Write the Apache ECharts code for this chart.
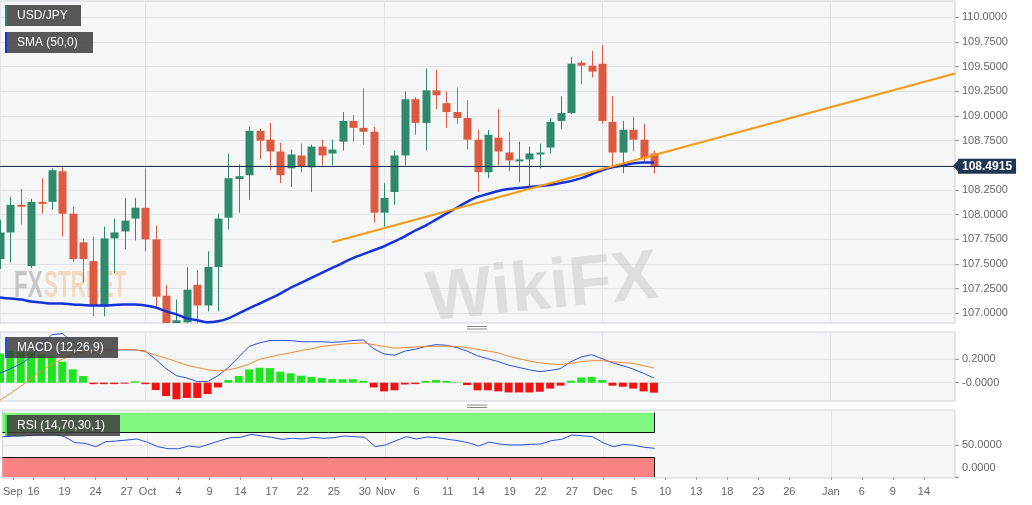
<!DOCTYPE html>
<html>
<head>
<meta charset="utf-8">
<script src="https://cdn.jsdelivr.net/npm/echarts@6.0.0/dist/echarts.min.js"></script>
<style>
html,body{margin:0;padding:0;background:#ffffff;}
#chart{width:1032px;height:505px;}
</style>
</head>
<body>
<div id="chart"></div>
<script>
// ---------- DATA ----------
const dates = [
 '2019-09-11','2019-09-12','2019-09-13','2019-09-16','2019-09-17','2019-09-18','2019-09-19','2019-09-20',
 '2019-09-23','2019-09-24','2019-09-25','2019-09-26','2019-09-27','2019-09-30',
 '2019-10-01','2019-10-02','2019-10-03','2019-10-04','2019-10-07','2019-10-08','2019-10-09','2019-10-10','2019-10-11',
 '2019-10-14','2019-10-15','2019-10-16','2019-10-17','2019-10-18','2019-10-21','2019-10-22','2019-10-23','2019-10-24','2019-10-25',
 '2019-10-28','2019-10-29','2019-10-30','2019-10-31',
 '2019-11-01','2019-11-04','2019-11-05','2019-11-06','2019-11-07','2019-11-08','2019-11-11','2019-11-12','2019-11-13','2019-11-14','2019-11-15',
 '2019-11-18','2019-11-19','2019-11-20','2019-11-21','2019-11-22','2019-11-25','2019-11-26','2019-11-27','2019-11-28','2019-11-29',
 '2019-12-02','2019-12-03','2019-12-04','2019-12-05','2019-12-06','2019-12-09','2019-12-10','2019-12-11','2019-12-12','2019-12-13',
 '2019-12-16','2019-12-17','2019-12-18','2019-12-19','2019-12-20','2019-12-23','2019-12-24','2019-12-25','2019-12-26','2019-12-27',
 '2019-12-30','2019-12-31',
 '2020-01-01','2020-01-02','2020-01-03','2020-01-06','2020-01-07','2020-01-08','2020-01-09','2020-01-10',
 '2020-01-13','2020-01-14','2020-01-15','2020-01-16','2020-01-17'
];

const opens  = [107.55,107.82,108.10,107.48,108.13,108.13,108.44,108.01,107.72,107.53,107.07,107.76,107.83,107.96,
                108.07,107.75,107.18,106.89,106.91,107.29,107.08,107.47,107.97,108.36,108.40,108.85,108.76,108.64,
                108.47,108.60,108.48,108.69,108.62,108.74,108.95,108.88,108.84,108.02,108.23,108.60,109.17,108.93,
                109.26,109.13,109.04,108.98,108.76,108.43,108.78,108.63,108.54,108.56,108.61,108.68,108.95,109.03,
                109.54,109.51,109.53,108.94,108.63,108.86,108.76,108.62];
const closes = [107.82,108.10,108.08,108.13,108.11,108.45,108.01,107.55,107.55,107.08,107.76,107.82,107.94,108.07,
                107.75,107.17,106.88,106.93,107.24,107.08,107.47,107.96,108.37,108.39,108.85,108.75,108.64,108.40,
                108.61,108.49,108.69,108.60,108.66,108.95,108.88,108.84,108.02,108.17,108.60,109.17,108.93,109.26,
                109.21,109.04,108.98,108.76,108.43,108.81,108.64,108.55,108.56,108.62,108.63,108.94,109.03,109.53,
                109.51,109.45,108.95,108.63,108.86,108.76,108.57,108.49];
const lows   = [107.45,107.52,107.90,107.46,108.01,108.05,107.78,107.52,107.31,106.97,106.97,107.41,107.65,107.74,
                107.63,107.07,106.48,106.73,106.80,106.90,107.02,107.02,107.85,108.02,108.15,108.56,108.45,108.32,
                108.28,108.43,108.23,108.50,108.50,108.65,108.74,108.71,107.92,107.88,108.10,108.50,108.81,108.65,
                109.07,108.88,108.92,108.66,108.23,108.37,108.50,108.44,108.33,108.28,108.47,108.62,108.87,109.02,
                109.32,109.39,108.92,108.49,108.42,108.64,108.53,108.42];
const highs  = [107.95,108.18,108.26,108.16,108.37,108.47,108.48,108.08,107.76,107.78,107.88,107.96,108.17,108.17,
                108.47,107.89,107.29,107.14,107.47,107.44,107.63,108.01,108.62,108.51,108.89,108.87,108.93,108.73,
                108.66,108.72,108.71,108.76,108.76,109.04,109.01,109.28,108.89,108.32,108.65,109.25,109.19,109.48,
                109.47,109.25,109.29,109.16,108.86,108.86,109.07,108.84,108.74,108.69,108.72,108.98,109.20,109.60,
                109.56,109.66,109.72,109.20,108.95,108.99,108.92,108.65];

const sma50 = [107.16,107.15,107.14,107.12,107.11,107.10,107.10,107.09,107.085,107.08,107.08,107.085,107.09,107.09,
               107.08,107.06,107.02,106.99,106.95,106.93,106.91,106.92,106.95,107.00,107.05,107.10,107.15,107.20,
               107.26,107.31,107.36,107.41,107.46,107.51,107.56,107.60,107.64,107.68,107.73,107.78,107.84,107.89,
               107.95,108.01,108.07,108.13,108.18,108.21,108.24,108.26,108.27,108.28,108.29,108.30,108.32,108.34,
               108.37,108.41,108.45,108.48,108.50,108.52,108.53,108.53];

const trendDates  = ['2019-10-25','2020-01-17'];
const trendValues = [107.72, 109.43];
const lastPrice   = 108.4915;

const macdLine   = [0.08,0.12,0.16,0.22,0.33,0.41,0.42,0.35,0.29,0.28,0.28,0.28,0.28,0.28,
                    0.27,0.20,0.12,0.06,0.04,0.01,0.01,0.06,0.13,0.22,0.31,0.34,0.36,0.36,
                    0.36,0.35,0.35,0.35,0.345,0.35,0.36,0.365,0.29,0.245,0.235,0.27,0.285,0.31,
                    0.325,0.32,0.30,0.27,0.23,0.205,0.18,0.15,0.13,0.11,0.095,0.105,0.12,0.18,
                    0.22,0.24,0.205,0.17,0.145,0.117,0.08,0.04];
const macdSignal = [-0.15,-0.09,-0.03,0.04,0.10,0.16,0.20,0.24,0.26,0.275,0.28,0.285,0.285,0.28,
                    0.265,0.235,0.21,0.18,0.15,0.13,0.11,0.10,0.11,0.13,0.16,0.20,0.22,0.24,
                    0.255,0.275,0.29,0.31,0.32,0.33,0.335,0.34,0.325,0.31,0.295,0.30,0.305,0.31,
                    0.312,0.313,0.31,0.30,0.285,0.27,0.255,0.225,0.205,0.185,0.17,0.16,0.157,0.165,
                    0.18,0.188,0.188,0.18,0.172,0.165,0.145,0.125];
const macdHist   = [0.25,0.27,0.265,0.26,0.24,0.23,0.18,0.114,0.057,-0.012,-0.012,-0.012,-0.008,0.012,
                    -0.012,-0.062,-0.114,-0.142,-0.13,-0.13,-0.097,-0.04,0.023,0.057,0.114,0.128,0.125,0.094,
                    0.08,0.06,0.05,0.04,0.03,0.03,0.03,0.017,-0.04,-0.074,-0.065,-0.015,-0.012,0.015,
                    0.023,0.015,0.004,-0.02,-0.065,-0.065,-0.074,-0.083,-0.083,-0.083,-0.077,-0.05,-0.025,0.017,
                    0.045,0.05,0.023,-0.025,-0.034,-0.05,-0.074,-0.085];

const rsi = [62.7,63.3,63.8,65.3,66.0,66.9,62.7,53.4,52.4,47.1,54.9,56.0,57.5,59.1,
             54.0,47.1,44.0,44.0,48.2,46.2,51.3,56.5,61.1,61.7,66.4,63.8,61.7,58.6,
             60.2,59.1,61.7,60.2,61.1,63.8,62.7,61.7,47.1,49.8,56.5,62.7,59.1,62.2,
             61.1,58.6,56.5,53.4,48.2,54.4,51.3,49.8,49.8,50.8,51.3,56.5,58.6,65.3,
             64.2,62.7,53.4,47.1,50.8,49.3,46.2,44.6];
const rsiUpper = 70, rsiLower = 30, rsiTop = 100, rsiBottom = 0;

const priceTicks = [107,107.25,107.5,107.75,108,108.25,108.5,108.75,109,109.25,109.5,109.75,110];
const macdTicks = [0, 0.2];
const macdTickLabels = ['-0.0000','0.2000'];
const rsiTicks = [0, 50];
const rsiTickLabels = ['0.0000','50.0000'];

const xLabelDates = ['2019-09-12','2019-09-16','2019-09-19','2019-09-24','2019-09-27','2019-10-01','2019-10-04','2019-10-09',
  '2019-10-14','2019-10-17','2019-10-22','2019-10-25','2019-10-30','2019-11-01','2019-11-06','2019-11-11','2019-11-14',
  '2019-11-19','2019-11-22','2019-11-27','2019-12-02','2019-12-05','2019-12-10','2019-12-13','2019-12-18','2019-12-23',
  '2019-12-26','2020-01-01','2020-01-06','2020-01-09','2020-01-14'];
const xLabelTexts = ['Sep','16','19','24','27','Oct','4','9','14','17','22','25','30','Nov','6','11','14',
  '19','22','27','Dec','5','10','13','18','23','26','Jan','6','9','14'];
const monthStarts = ['2019-10-01','2019-11-01','2019-12-02','2020-01-01'];

// ---------- STYLE ----------
const FONT = '"Liberation Sans", Arial, sans-serif';
const UP = '#2f8a6c', DOWN = '#dc5a40';
const PANEL_BG = '#f5f6f8', PANEL_BORDER = '#cfd2d6', GRIDLINE = '#e1e3e7';
const labelMap = {};
xLabelDates.forEach((d, i) => { labelMap[d] = xLabelTexts[i]; });
const monthSet = new Set(monthStarts);

const candleRows = opens.map((o, i) => [i, o, closes[i], lows[i], highs[i]]);

function renderCandle(params, api) {
  const idx = api.value(0);
  const o = api.value(1), c = api.value(2), l = api.value(3), h = api.value(4);
  const pO = api.coord([idx, o]);
  const pC = api.coord([idx, c]);
  const pL = api.coord([idx, l]);
  const pH = api.coord([idx, h]);
  const x = Math.round(pO[0]) + 0.5;
  const color = c >= o ? UP : DOWN;
  const top = Math.min(pO[1], pC[1]);
  const bodyH = Math.max(1.5, Math.abs(pO[1] - pC[1]));
  return {
    type: 'group',
    children: [
      { type: 'line', shape: { x1: x, y1: pH[1], x2: x, y2: pL[1] }, style: { stroke: color, lineWidth: 1 } },
      { type: 'rect', shape: { x: x - 4, y: top, width: 8, height: bodyH }, style: { fill: color } }
    ]
  };
}

function xAxisFor(gi, showLabels) {
  return {
    type: 'category', gridIndex: gi, data: dates, boundaryGap: false,
    axisLine: { show: false },
    axisTick: { show: showLabels, length: 3, interval: (i, v) => v in labelMap, lineStyle: { color: '#aaa' } },
    axisLabel: { show: showLabels, interval: (i, v) => v in labelMap, formatter: v => labelMap[v] || '',
                 color: '#666', fontSize: 11, fontFamily: FONT, margin: 8 },
    splitLine: { show: true, interval: (i, v) => monthSet.has(v), lineStyle: { color: GRIDLINE, width: 1 } }
  };
}

function badge(x, y, w, h, text, mark) {
  return [
    { type: 'rect', z: 100, shape: { x: x, y: y, width: w, height: h }, style: { fill: 'rgba(62,62,62,0.86)' } },
    { type: 'rect', z: 101, shape: { x: x, y: y, width: 2, height: h }, style: { fill: mark } },
    { type: 'text', z: 101, x: x + 12, y: y + h / 2,
      style: { text: text, fill: '#ffffff', font: '12px ' + FONT, verticalAlign: 'middle', align: 'left' } }
  ];
}

const chart = echarts.init(document.getElementById('chart'), null, { renderer: 'canvas' });

const option = {
  animation: false,
  backgroundColor: '#ffffff',
  textStyle: { fontFamily: FONT },
  grid: [
    { left: 0, right: 77, top: 1, height: 322, show: true, backgroundColor: PANEL_BG, borderColor: PANEL_BORDER, borderWidth: 1 },
    { left: 0, right: 77, top: 332, height: 69, show: true, backgroundColor: PANEL_BG, borderColor: PANEL_BORDER, borderWidth: 1 },
    { left: 0, right: 77, top: 410, height: 68, show: true, backgroundColor: PANEL_BG, borderColor: PANEL_BORDER, borderWidth: 1 }
  ],
  xAxis: [xAxisFor(0, false), xAxisFor(1, false), xAxisFor(2, true)],
  yAxis: [
    { type: 'value', gridIndex: 0, position: 'right', min: 106.9027, max: 110.165,
      axisLine: { show: false },
      axisTick: { show: true, length: 4, customValues: priceTicks, lineStyle: { color: '#999' } },
      axisLabel: { customValues: priceTicks, formatter: v => v.toFixed(4), color: '#666', fontSize: 11, fontFamily: FONT, margin: 7 },
      splitLine: { show: true, lineStyle: { color: GRIDLINE } } },
    { type: 'value', gridIndex: 1, position: 'right', min: -0.156, max: 0.433,
      axisLine: { show: false },
      axisTick: { show: true, length: 4, customValues: macdTicks, lineStyle: { color: '#999' } },
      axisLabel: { customValues: macdTicks, formatter: v => macdTickLabels[macdTicks.indexOf(v)] || v.toFixed(4),
                   color: '#666', fontSize: 11, fontFamily: FONT, margin: 7 },
      splitLine: { show: true, lineStyle: { color: GRIDLINE } } },
    { type: 'value', gridIndex: 2, position: 'right', min: -1.55, max: 104.2,
      axisLine: { show: false },
      axisTick: { show: true, length: 4, customValues: rsiTicks, lineStyle: { color: '#999' } },
      axisLabel: { customValues: rsiTicks,
                   formatter: v => v === 0 ? '{lo|' + rsiTickLabels[0] + '}' : rsiTickLabels[rsiTicks.indexOf(v)],
                   rich: { lo: { padding: [0, 0, 18, 0], color: '#666', fontSize: 11, fontFamily: FONT } },
                   color: '#666', fontSize: 11, fontFamily: FONT, margin: 7 },
      splitLine: { show: true, lineStyle: { color: GRIDLINE } } }
  ],
  series: [
    { name: 'USD/JPY', type: 'custom', xAxisIndex: 0, yAxisIndex: 0, data: candleRows, clip: true,
      renderItem: renderCandle, encode: { x: 0, y: [1, 2, 3, 4] }, z: 2 },
    { name: 'SMA (50,0)', type: 'line', xAxisIndex: 0, yAxisIndex: 0, data: sma50, showSymbol: false, smooth: 0.3,
      lineStyle: { color: '#1532d6', width: 2.5 }, z: 4 },
    { name: 'Trend', type: 'line', xAxisIndex: 0, yAxisIndex: 0,
      data: trendDates.map((d, i) => [d, trendValues[i]]), showSymbol: false,
      lineStyle: { color: '#f59a14', width: 2 }, z: 5,
      markLine: { silent: true, symbol: ['none', 'none'], animation: false,
        data: [{ yAxis: lastPrice }],
        lineStyle: { color: '#1e3553', width: 1, type: 'solid' },
        label: { show: true, position: 'end', distance: 3, formatter: lastPrice.toFixed(4),
                 color: '#ffffff', backgroundColor: '#1e3553', fontWeight: 'bold', fontSize: 12,
                 fontFamily: FONT, padding: [2, 4, 1, 4] } } },
    { name: 'Histogram', type: 'bar', xAxisIndex: 1, yAxisIndex: 1, data: macdHist, barWidth: 8,
      itemStyle: { color: p => p.value >= 0 ? '#1ee61e' : '#f21212' } },
    { name: 'MACD', type: 'line', xAxisIndex: 1, yAxisIndex: 1, data: macdLine, showSymbol: false,
      lineStyle: { color: '#2d4fd8', width: 1 } },
    { name: 'Signal', type: 'line', xAxisIndex: 1, yAxisIndex: 1, data: macdSignal, showSymbol: false,
      lineStyle: { color: '#f08a30', width: 1 } },
    { name: 'RSI', type: 'line', xAxisIndex: 2, yAxisIndex: 2, data: rsi, showSymbol: false,
      lineStyle: { color: '#2d4fd8', width: 1 },
      markArea: { silent: true,
        data: [
          [{ xAxis: dates[0], yAxis: rsiUpper, itemStyle: { color: '#80f880' } }, { xAxis: dates[rsi.length - 1], yAxis: rsiTop }],
          [{ xAxis: dates[0], yAxis: rsiBottom, itemStyle: { color: '#fb8282' } }, { xAxis: dates[rsi.length - 1], yAxis: rsiLower }]
        ] },
      markLine: { silent: true, symbol: ['none', 'none'], label: { show: false },
        lineStyle: { color: '#111', width: 1, type: 'solid' },
        data: [
          [{ coord: [dates[0], rsiUpper] }, { coord: [dates[rsi.length - 1], rsiUpper] }],
          [{ coord: [dates[rsi.length - 1], rsiUpper] }, { coord: [dates[rsi.length - 1], rsiTop] }],
          [{ coord: [dates[0], rsiLower] }, { coord: [dates[rsi.length - 1], rsiLower] }],
          [{ coord: [dates[rsi.length - 1], rsiBottom] }, { coord: [dates[rsi.length - 1], rsiLower] }]
        ] } }
  ],
  graphic: [
    // watermarks
    { type: 'text', z: 1, x: 430, y: 336, rotation: 0.1, silent: true,
      style: { text: 'WikiFX', font: 'bold 70px ' + FONT, fill: 'rgba(175,172,172,0.32)', verticalAlign: 'bottom' } },
    { type: 'text', z: 1, x: 14, y: 305, scaleX: 0.62, silent: true,
      style: { text: 'FX', font: 'bold 36px ' + FONT, fill: 'rgba(110,110,110,0.35)', verticalAlign: 'bottom' } },
    { type: 'text', z: 1, x: 44, y: 305, scaleX: 0.58, silent: true,
      style: { text: 'STREET', font: 'bold 36px ' + FONT, fill: 'rgba(240,160,80,0.35)', verticalAlign: 'bottom' } },
    // panel drag handles
    { type: 'rect', z: 50, shape: { x: 467, y: 326, width: 20, height: 1 }, style: { fill: '#8a8a8a' } },
    { type: 'rect', z: 50, shape: { x: 467, y: 328.5, width: 20, height: 1 }, style: { fill: '#8a8a8a' } },
    { type: 'rect', z: 50, shape: { x: 467, y: 404.5, width: 20, height: 1 }, style: { fill: '#8a8a8a' } },
    { type: 'rect', z: 50, shape: { x: 467, y: 407, width: 20, height: 1 }, style: { fill: '#8a8a8a' } },
    // price label arrow
    { type: 'polygon', z: 60, shape: { points: [[953, 166], [958.5, 160], [958.5, 172]] }, style: { fill: '#1e3553' } }
  ]
    .concat(badge(5, 5, 76, 21, 'USD/JPY', UP))
    .concat(badge(5, 32, 88, 21, 'SMA (50,0)', '#1532d6'))
    .concat(badge(5, 337, 113, 21, 'MACD (12,26,9)', '#2d4fd8'))
    .concat(badge(5, 415, 115, 21, 'RSI (14,70,30,1)', '#3ee03e'))
};

chart.setOption(option);
</script>
</body>
</html>
